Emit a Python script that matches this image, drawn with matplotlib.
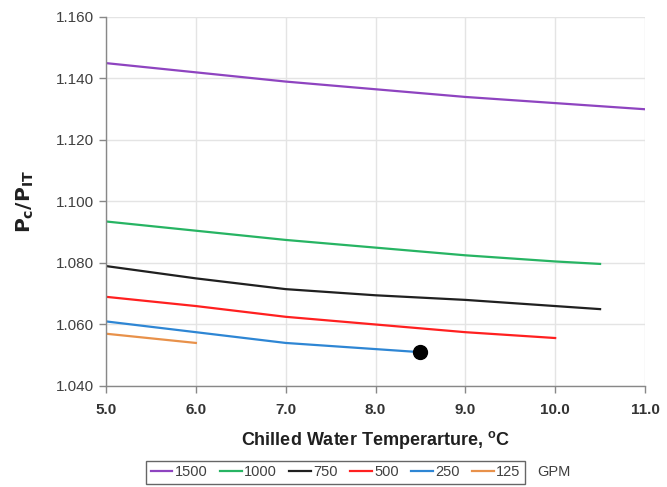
import matplotlib
matplotlib.use("Agg")
import matplotlib.pyplot as plt

plt.rcParams['font.family'] = ['Liberation Sans', 'DejaVu Sans']

# Chilled water temperature (°C) and Pc/PIT ratio per flow rate (GPM)
x_1500 = [5.0, 6.0, 7.0, 8.0, 9.0, 10.0, 11.0]
y_1500 = [1.145, 1.142, 1.139, 1.1365, 1.134, 1.132, 1.130]

x_1000 = [5.0, 6.0, 7.0, 8.0, 9.0, 10.0, 10.5]
y_1000 = [1.0935, 1.0905, 1.0875, 1.085, 1.0825, 1.0805, 1.0797]

x_750 = [5.0, 6.0, 7.0, 8.0, 9.0, 10.0, 10.5]
y_750 = [1.079, 1.075, 1.0715, 1.0695, 1.068, 1.066, 1.065]

x_500 = [5.0, 6.0, 7.0, 8.0, 9.0, 10.0]
y_500 = [1.069, 1.066, 1.0625, 1.060, 1.0575, 1.0556]

x_250 = [5.0, 6.0, 7.0, 8.0, 8.5]
y_250 = [1.061, 1.0575, 1.054, 1.052, 1.051]

x_125 = [5.0, 6.0]
y_125 = [1.057, 1.054]

point_x = [8.5]
point_y = [1.051]

labels = ['1500', '1000', '750', '500', '250', '125']
colors = ['#8e44c0', '#27b463', '#202020', '#ff2020', '#2e86d4', '#e8914a']
series = [(x_1500, y_1500), (x_1000, y_1000), (x_750, y_750),
          (x_500, y_500), (x_250, y_250), (x_125, y_125)]

x_ticks = [5.0, 6.0, 7.0, 8.0, 9.0, 10.0, 11.0]
y_ticks = [1.040, 1.060, 1.080, 1.100, 1.120, 1.140, 1.160]

fig = plt.figure(figsize=(6.67, 4.87), dpi=100)
ax = fig.add_axes([0.159, 0.2074, 0.808, 0.7577])

handles = []
for (xs, ys), lab, c in zip(series, labels, colors):
    h, = ax.plot(xs, ys, color=c, lw=1.6, label=lab)
    handles.append(h)

ax.plot(point_x, point_y, 'o', color='black', ms=10, zorder=5)

ax.set_xlim(5.0, 11.0)
ax.set_ylim(1.040, 1.160)
ax.set_xticks(x_ticks)
ax.set_xticklabels([f"{v:.1f}" for v in x_ticks], fontsize=11,
                   fontweight='bold', color='#333333')
ax.set_yticks(y_ticks)
ax.set_yticklabels([f"{v:.3f}" for v in y_ticks], fontsize=11, color='#404040')

ax.grid(True, color='#e4e4e4', lw=1.0)
ax.set_axisbelow(True)
for s in ['top', 'right']:
    ax.spines[s].set_visible(False)
for s in ['left', 'bottom']:
    ax.spines[s].set_color('#888888')
    ax.spines[s].set_linewidth(1.0)
ax.tick_params(axis='both', direction='out', length=5, color='#888888', width=1.0)
ax.tick_params(axis='x', pad=7)
ax.tick_params(axis='y', pad=4)

ax.set_xlabel('Chilled Water Temperarture, $\\mathregular{^{o}}$C',
              fontsize=13, fontweight='bold', color='#202020', labelpad=9)
ax.set_ylabel('$\\mathbf{P_{c}/P_{IT}}$', fontsize=14.5, color='#202020', labelpad=14)

leg = fig.legend(handles=handles, labels=labels, loc='center',
                 bbox_to_anchor=(0.503, 0.030), ncol=6, frameon=True,
                 fontsize=10.5, handlelength=1.5, handletextpad=0.15,
                 columnspacing=0.85, borderpad=0.3, fancybox=False)
leg.get_frame().set_edgecolor('#404040')
leg.get_frame().set_linewidth(1.0)
for t in leg.get_texts():
    t.set_color('#404040')

fig.text(0.806, 0.030, 'GPM', fontsize=10.5, color='#404040', va='center', ha='left')

fig.savefig('out.png', dpi=100)
